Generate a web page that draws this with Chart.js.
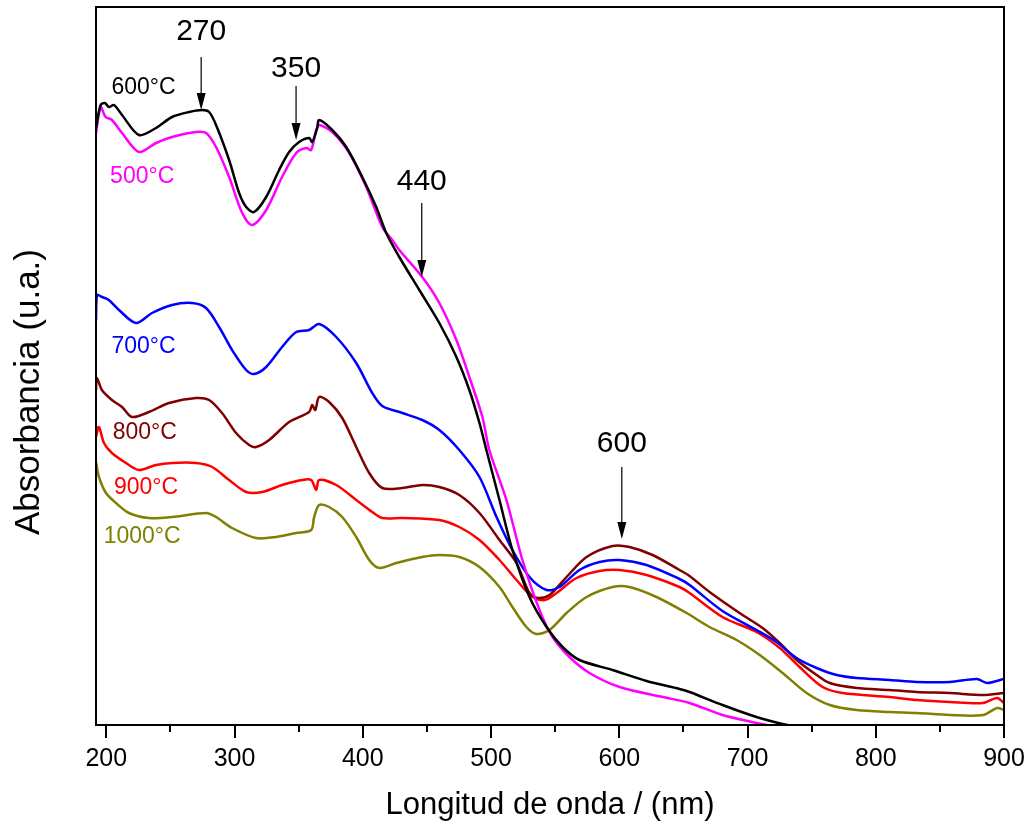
<!DOCTYPE html>
<html>
<head>
<meta charset="utf-8">
<title>Absorbancia UV-Vis</title>
<script src="https://cdn.jsdelivr.net/npm/chart.js@4.4.1/dist/chart.umd.min.js"></script>
<style>
  html, body { margin: 0; padding: 0; background: #ffffff; }
  #wrap { width: 1033px; height: 829px; }
</style>
</head>
<body>
<div id="wrap"><canvas id="spectraChart" width="1033" height="829"></canvas></div>
<script>
// Longitud de onda (nm) y absorbancia (u.a.) para cada temperatura de calcinación
const nm500 = [192, 195.6, 199.5, 204.4, 212.3, 225.5, 238.8, 251.3, 270, 277.8, 285.6, 295.8, 306, 313.7, 324.7, 337.1, 348.1, 355.9, 359.8, 363.7, 366, 376.2, 389.5, 402.7, 415.2, 423, 428.5, 446.4, 459.7, 473, 483.1, 493.3, 498.7, 512, 524.5, 537.8, 548, 561.2, 576.8, 600.2, 634, 654.8, 680.5, 707, 714.8, 725];
const abs500 = [5.92, 6.18, 6.08, 6.05, 5.92, 5.73, 5.82, 5.88, 5.93, 5.92, 5.78, 5.48, 5.12, 5.00, 5.15, 5.48, 5.72, 5.77, 5.75, 5.95, 6.00, 5.93, 5.72, 5.38, 4.98, 4.85, 4.75, 4.48, 4.22, 3.85, 3.48, 3.08, 2.75, 2.25, 1.65, 1.15, 0.88, 0.68, 0.52, 0.38, 0.28, 0.22, 0.10, 0.02, 0.00, -0.02];

const nm600 = [192, 195.6, 199, 202, 206, 212.3, 225.5, 238.8, 251.3, 264.6, 274.7, 280.2, 285.6, 295.8, 303.6, 309.1, 315.3, 324.7, 334.8, 342.6, 350.4, 358.2, 360.6, 364.5, 366, 376.2, 387.1, 399.6, 410.5, 418.3, 428.5, 444.1, 459.7, 473, 483.1, 491, 496.4, 506.6, 516.7, 530, 543.3, 555.8, 569, 594.8, 621.3, 647, 654.8, 680.5, 707, 727.4, 735];
const abs600 = [5.97, 6.20, 6.22, 6.18, 6.20, 6.10, 5.90, 5.97, 6.08, 6.13, 6.15, 6.13, 6.00, 5.65, 5.32, 5.18, 5.13, 5.28, 5.55, 5.73, 5.83, 5.87, 5.83, 5.97, 6.05, 5.95, 5.78, 5.48, 5.18, 4.92, 4.68, 4.35, 4.02, 3.68, 3.35, 3.02, 2.75, 2.25, 1.75, 1.28, 0.98, 0.78, 0.65, 0.55, 0.44, 0.36, 0.33, 0.20, 0.08, 0.01, -0.01];

const nm700 = [192, 192.7, 196.6, 202, 209.9, 223.2, 235.7, 251.3, 266.9, 277.8, 288, 298.1, 309.1, 315.3, 324.7, 337.1, 348.1, 358.2, 366, 379.3, 394.9, 407.4, 415.2, 430.8, 446.4, 459.7, 475.3, 491, 504.3, 516.7, 530, 543.3, 553.4, 569, 584.6, 600.2, 621.3, 647, 654.8, 680.5, 707, 722.6, 738.2, 753.9, 769.5, 785.2, 811, 832, 857.8, 878.9, 886.7, 900];
const abs700 = [4.05, 4.30, 4.28, 4.25, 4.15, 4.02, 4.12, 4.20, 4.22, 4.17, 3.98, 3.75, 3.55, 3.51, 3.58, 3.78, 3.93, 3.95, 4.01, 3.88, 3.62, 3.32, 3.19, 3.12, 3.05, 2.95, 2.75, 2.48, 2.08, 1.75, 1.48, 1.35, 1.38, 1.55, 1.63, 1.65, 1.60, 1.46, 1.40, 1.14, 0.95, 0.83, 0.67, 0.57, 0.50, 0.47, 0.45, 0.43, 0.43, 0.46, 0.42, 0.46];

const nm800 = [192, 192.7, 196.6, 204.4, 212.3, 220.1, 233.3, 248.9, 270, 280.2, 290.3, 301.2, 311.4, 316.8, 327, 342.6, 358.2, 360.6, 363, 366, 373.8, 384, 394.9, 405, 415.2, 430.8, 446.4, 459.7, 475.3, 491, 506.6, 519.9, 530, 536.3, 545.6, 558.9, 574.5, 594.8, 608, 626, 647, 654.8, 670.4, 693.8, 711.8, 725.1, 738.4, 753.9, 764.1, 785.2, 811, 832, 857.8, 883.6, 900];
const abs800 = [3.35, 3.47, 3.35, 3.25, 3.18, 3.08, 3.13, 3.22, 3.27, 3.25, 3.12, 2.92, 2.80, 2.78, 2.85, 3.03, 3.13, 3.20, 3.15, 3.28, 3.23, 3.07, 2.78, 2.52, 2.37, 2.37, 2.40, 2.38, 2.30, 2.12, 1.85, 1.62, 1.32, 1.27, 1.30, 1.48, 1.68, 1.79, 1.78, 1.70, 1.55, 1.49, 1.33, 1.12, 0.97, 0.82, 0.65, 0.50, 0.42, 0.37, 0.35, 0.33, 0.32, 0.30, 0.32];

const nm900 = [192, 194.3, 198.2, 204.4, 215.4, 225.5, 238.8, 251.3, 270, 282.6, 295.8, 309.1, 321.6, 337.1, 352.8, 359.8, 363.7, 366, 379.3, 394.9, 407.4, 415.2, 430.8, 459.7, 475.3, 491, 506.6, 519.9, 532.4, 541.8, 551.1, 566.7, 584.6, 600.2, 621.3, 647, 654.8, 680.5, 707, 725.1, 740.6, 758.6, 774.2, 811, 832, 857.8, 883.6, 894.6, 900];
const abs900 = [2.88, 2.98, 2.82, 2.72, 2.62, 2.55, 2.60, 2.62, 2.62, 2.58, 2.45, 2.33, 2.33, 2.40, 2.45, 2.45, 2.35, 2.45, 2.40, 2.25, 2.13, 2.07, 2.07, 2.05, 1.98, 1.85, 1.65, 1.45, 1.28, 1.25, 1.32, 1.47, 1.54, 1.55, 1.50, 1.38, 1.32, 1.08, 0.93, 0.77, 0.58, 0.38, 0.32, 0.28, 0.25, 0.23, 0.22, 0.27, 0.22];

const nm1000 = [192, 194.3, 199.8, 207.6, 217.7, 233.3, 251.3, 277.8, 285.6, 298.1, 316.8, 332.4, 348.1, 359.8, 362.1, 366, 373.8, 384, 394.9, 405, 412.9, 426.2, 446.4, 459.7, 475.3, 491, 506.6, 516.7, 527.6, 535.4, 545.6, 558.9, 574.5, 594.8, 608, 629, 652.5, 670.4, 691.5, 709.5, 727.4, 746.1, 764.1, 785.2, 811, 832, 857.8, 883.6, 894.6, 900];
const abs1000 = [2.63, 2.48, 2.32, 2.22, 2.12, 2.07, 2.08, 2.12, 2.08, 1.97, 1.87, 1.88, 1.92, 1.95, 2.08, 2.20, 2.18, 2.08, 1.88, 1.65, 1.57, 1.62, 1.68, 1.70, 1.68, 1.58, 1.38, 1.18, 0.98, 0.91, 0.95, 1.12, 1.28, 1.38, 1.38, 1.28, 1.12, 0.98, 0.85, 0.70, 0.52, 0.32, 0.20, 0.15, 0.13, 0.12, 0.10, 0.10, 0.17, 0.15];

const xTicks = [200, 300, 400, 500, 600, 700, 800, 900];
const xMinorTicks = [250, 350, 450, 550, 650, 750, 850];

// Bandas señaladas con flecha
const bandLabels = ['270', '350', '440', '600'];
const bandNm = [274, 348, 446, 602];

const seriesList = [
    { label: '600°C', nm: nm600, abs: abs600, color: '#000000', tagNm: 204, tagAbs: 6.37 },
    { label: '500°C', nm: nm500, abs: abs500, color: '#ff00ff', tagNm: 203, tagAbs: 5.48 },
    { label: '700°C', nm: nm700, abs: abs700, color: '#0000ff', tagNm: 204, tagAbs: 3.78 },
    { label: '800°C', nm: nm800, abs: abs800, color: '#800000', tagNm: 205, tagAbs: 2.92 },
    { label: '900°C', nm: nm900, abs: abs900, color: '#ff0000', tagNm: 206, tagAbs: 2.37 },
    { label: '1000°C', nm: nm1000, abs: abs1000, color: '#808000', tagNm: 198, tagAbs: 1.88 }
];

// posición vertical de número, cola y punta de cada flecha
const arrowLayout = [
    { text: 6.93, tail: 6.68, tip: 6.15 },
    { text: 6.56, tail: 6.39, tip: 5.85 },
    { text: 5.43, tail: 5.22, tip: 4.48 },
    { text: 2.81, tail: 2.58, tip: 1.86 }
];

const FONT = '"Liberation Sans", Arial, Helvetica, sans-serif';

/**
 * Marco, marcas del eje X, flechas y etiquetas de cada curva
 */
const decorations = {
    id: 'decorations',
    afterDraw(chart) {
        const { ctx, chartArea: a, scales } = chart;
        const xs = scales.x, ys = scales.y;
        ctx.save();

        // frame
        ctx.strokeStyle = '#000';
        ctx.lineWidth = 2;
        ctx.strokeRect(a.left, a.top, a.right - a.left, a.bottom - a.top);

        // outward tick marks
        ctx.beginPath();
        xTicks.forEach(v => {
            const px = Math.round(xs.getPixelForValue(v));
            ctx.moveTo(px, a.bottom);
            ctx.lineTo(px, a.bottom + 13);
        });
        xMinorTicks.forEach(v => {
            const px = Math.round(xs.getPixelForValue(v));
            ctx.moveTo(px, a.bottom);
            ctx.lineTo(px, a.bottom + 7);
        });
        ctx.stroke();

        // band arrows
        ctx.fillStyle = '#000';
        ctx.lineWidth = 1.2;
        ctx.textAlign = 'center';
        ctx.textBaseline = 'middle';
        ctx.font = '30px ' + FONT;
        bandNm.forEach((v, i) => {
            const px = xs.getPixelForValue(v);
            const pos = arrowLayout[i];
            const yText = ys.getPixelForValue(pos.text);
            const yTail = ys.getPixelForValue(pos.tail);
            const yTip = ys.getPixelForValue(pos.tip);
            ctx.fillText(bandLabels[i], px, yText);
            ctx.beginPath();
            ctx.moveTo(px, yTail);
            ctx.lineTo(px, yTip - 12);
            ctx.stroke();
            ctx.beginPath();
            ctx.moveTo(px, yTip);
            ctx.lineTo(px - 4.5, yTip - 17);
            ctx.lineTo(px + 4.5, yTip - 17);
            ctx.closePath();
            ctx.fill();
        });

        // curve labels
        ctx.font = '23px ' + FONT;
        ctx.textAlign = 'left';
        seriesList.forEach(s => {
            ctx.fillStyle = s.color;
            ctx.fillText(s.label, xs.getPixelForValue(s.tagNm), ys.getPixelForValue(s.tagAbs));
        });

        // y axis title
        ctx.fillStyle = '#000';
        ctx.font = '35px ' + FONT;
        ctx.textAlign = 'center';
        ctx.translate(29, 392);
        ctx.rotate(-Math.PI / 2);
        ctx.fillText('Absorbancia (u.a.)', 0, 0);

        ctx.restore();
    }
};

function initSpectraChart() {
    const ctx = document.getElementById('spectraChart');

    Chart.defaults.font.family = FONT;
    Chart.defaults.color = '#000';

    const datasets = seriesList.map(s => ({
        label: s.label,
        data: s.nm.map((x, i) => ({ x: x, y: s.abs[i] })),
        borderColor: s.color,
        backgroundColor: s.color,
        borderWidth: 2.5,
        pointRadius: 0,
        tension: 0.3,
        fill: false
    }));

    new Chart(ctx, {
        type: 'line',
        data: { datasets: datasets },
        options: {
            responsive: false,
            animation: false,
            layout: { padding: { top: 7, right: 29, left: 0, bottom: 0 } },
            plugins: {
                legend: { display: false },
                tooltip: { enabled: false }
            },
            scales: {
                x: {
                    type: 'linear',
                    min: 192,
                    max: 900,
                    afterBuildTicks: scale => {
                        scale.ticks = xTicks.map(v => ({ value: v }));
                    },
                    afterFit: scale => {
                        scale.height = 104;
                        // let the end labels hang into the margin
                        scale.paddingLeft = 0;
                        scale.paddingRight = 0;
                    },
                    grid: { display: false, drawTicks: false },
                    border: { display: true, color: '#000', width: 2 },
                    ticks: {
                        color: '#000',
                        font: { size: 25 },
                        padding: 19,
                        maxRotation: 0,
                        autoSkip: false
                    },
                    title: {
                        display: true,
                        text: 'Longitud de onda / (nm)',
                        color: '#000',
                        font: { size: 31 },
                        padding: { top: 0, bottom: 5 }
                    }
                },
                y: {
                    type: 'linear',
                    min: 0,
                    max: 7.18,
                    afterFit: scale => { scale.width = 96; },
                    grid: { display: false, drawTicks: false },
                    border: { display: true, color: '#000', width: 2 },
                    ticks: { display: false }
                }
            }
        },
        plugins: [decorations]
    });
}

initSpectraChart();
</script>
</body>
</html>
